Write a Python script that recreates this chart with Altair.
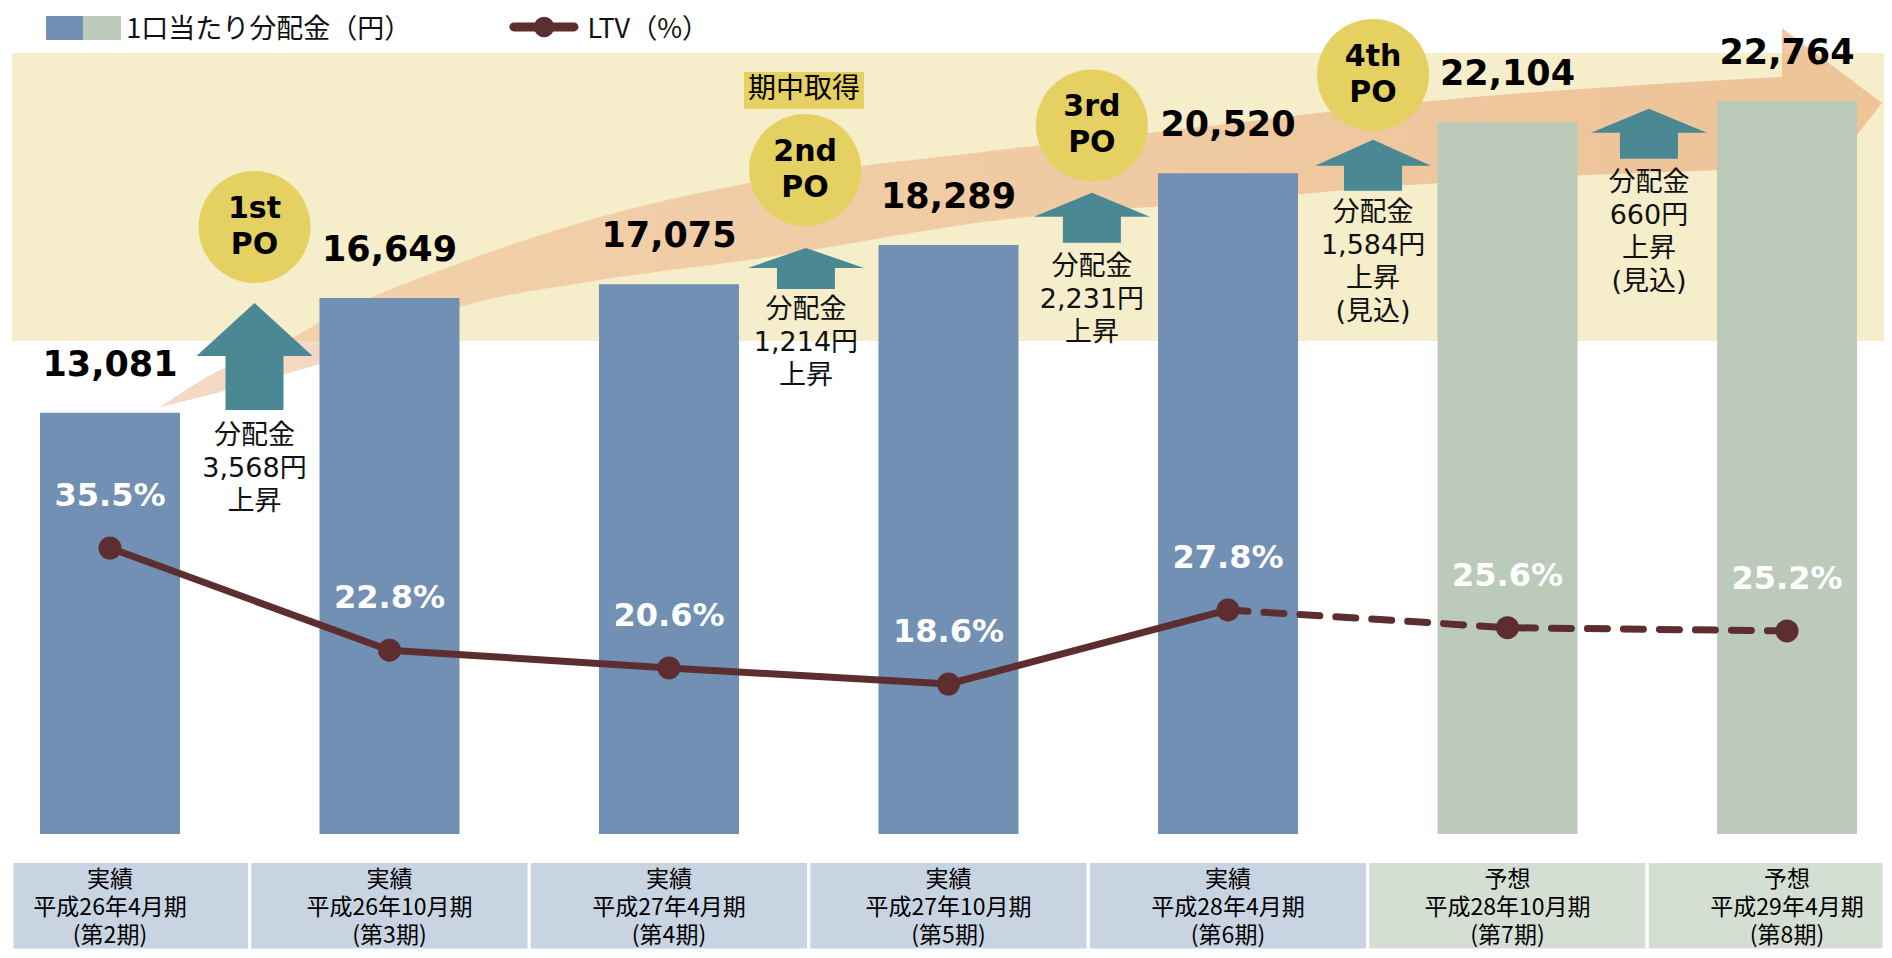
import altair as alt
import pandas as pd

# ---------------- data ----------------
kinds   = ["実績", "実績", "実績", "実績", "実績", "予想", "予想"]
periods = ["平成26年4月期", "平成26年10月期", "平成27年4月期", "平成27年10月期",
           "平成28年4月期", "平成28年10月期", "平成29年4月期"]
terms   = ["第2期", "第3期", "第4期", "第5期", "第6期", "第7期", "第8期"]
dist    = [13081, 16649, 17075, 18289, 20520, 22104, 22764]   # 1口当たり分配金（円）
ltv     = [35.5, 22.8, 20.6, 18.6, 27.8, 25.6, 25.2]          # LTV（%）

po_names   = ["1st", "2nd", "3rd", "4th"]
rise_from  = [0, 2, 3, 4, 5]
rise_to    = [1, 3, 4, 5, 6]
rise_notes = ["", "", "", "(見込)", "(見込)"]
legend_names = ["1口当たり分配金（円）", "LTV（%）"]
mid_note = "期中取得"

# ---------------- layout (data units: x = period index, y = yen) ----------------
W, H = 1876, 942
PX_PER_YEN = 0.0322
BASE = 826                      # plot-pixel row of zero yen
X_DOM = [-0.36494, 6.34705]
Y_DOM = [(BASE - H) / PX_PER_YEN, BASE / PX_PER_YEN]
L_DOM = [35.5 - (H - 540) / 8.047, 102.61]

BLUE, GREEN = "#7190B4", "#BCCBB9"
CELL_BLUE, CELL_GREEN = "#C8D4E2", "#D4DED2"
BAND = "#F6EECA"
GOLD = "#E5D062"
TEAL = "#4A8993"
MAROON = "#5C2E2F"
JP = "Noto Sans CJK JP"
MIX = "DejaVu Sans, Noto Sans CJK JP"
LAT = "DejaVu Sans"

po_x = [0.517, 2.487, 3.513, 4.519]
po_y = [18853, 20624, 22006, 23575]
po_txt_y = [19412, 21183, 22565, 24134]
arrow_x = [0.517, 2.490, 3.513, 4.519, 5.506]
arrow_y = [14831, 17564, 19141, 20769, 21748]
arrow_h = [107, 41, 50, 51, 50]
arrow_head = [53, 20, 24, 26, 24]
note_y = [12362, 16275, 17611, 19288, 20220]

# big trend arrow (shaft edges + head)
trend_x   = [0.179, 0.340, 0.640, 0.751, 1.252, 1.753, 2.286, 3.184, 3.900, 4.651, 5.982]
trend_top = [13263, 14163, 15344, 15903, 17735, 19164, 20220, 21245, 21959, 22705, 23512]
trend_bot = [13263, 13604, 14319, 14598, 16369, 17207, 17828, 19071, 19599, 20158, 20686]
head_x = [5.982, 6.340]
head_top = [25034, 22705]
head_bot = [18760, 22705]

xsc = alt.Scale(domain=X_DOM, nice=False, zero=False, padding=0)
ysc = alt.Scale(domain=Y_DOM, nice=False, zero=False, padding=0)
lsc = alt.Scale(domain=L_DOM, nice=False, zero=False, padding=0)


def X(f):
    return alt.X(f, type="quantitative", scale=xsc, axis=None)


def Y(f):
    return alt.Y(f, type="quantitative", scale=ysc, axis=None)


def arrow_path(h, head, w=116, body=58):
    s = w / 2
    t = -h / 2 / s
    b = h / 2 / s
    base = t + head / s
    bw = body / 2 / s
    return (f"M0,{t:.3f}L1,{base:.3f}L{bw:.3f},{base:.3f}L{bw:.3f},{b:.3f}"
            f"L{-bw:.3f},{b:.3f}L{-bw:.3f},{base:.3f}L-1,{base:.3f}Z")


df = pd.DataFrame({"i": list(range(7)), "kind": kinds, "period": periods,
                   "term": terms, "dist": dist, "ltv": ltv})
df["cell"] = [f"{k}\n{p}\n({t})" for k, p, t in zip(kinds, periods, terms)]
df["ltv_label"] = [f"{v:.1f}%" for v in ltv]

# background band
band_df = pd.DataFrame({"x0": [-0.3506], "x1": [X_DOM[1]], "y0": [15313], "y1": [24258]})
band = alt.Chart(band_df).mark_rect(color=BAND).encode(
    x=X("x0"), x2=alt.X2("x1"), y=Y("y0"), y2=alt.Y2("y1"))

# trend arrow
grad = alt.Gradient(gradient="linear",
                    stops=[alt.GradientStop(color="rgba(238,186,148,0.55)", offset=0),
                           alt.GradientStop(color="rgba(234,176,130,0.68)", offset=1)],
                    x1=0, x2=1, y1=0, y2=0)
shaft_df = pd.DataFrame({"x": trend_x, "top": trend_top, "bot": trend_bot})
shaft = alt.Chart(shaft_df).mark_area(color=grad, interpolate="monotone").encode(
    x=X("x"), y=Y("top"), y2=alt.Y2("bot"))
head_df = pd.DataFrame({"x": head_x, "top": head_top, "bot": head_bot})
head = alt.Chart(head_df).mark_area(color="rgba(234,176,130,0.68)").encode(
    x=X("x"), y=Y("top"), y2=alt.Y2("bot"))

# bars
bars = alt.Chart(df).mark_bar(size=140).encode(
    x=X("i"), y=Y("dist"),
    color=alt.condition("datum.kind == '実績'", alt.value(BLUE), alt.value(GREEN)))
bar_lbl = alt.Chart(df).mark_text(dy=-48, font=LAT, fontWeight="bold", fontSize=35,
                                  color="black", baseline="middle").encode(
    x=X("i"), y=Y("dist"), text=alt.Text("dist:Q", format=","))

# teal rise arrows + notes
rise_amt = [dist[b] - dist[a] for a, b in zip(rise_from, rise_to)]
arrow_df = pd.DataFrame({
    "x": arrow_x, "y": arrow_y,
    "path": [arrow_path(h, hd) for h, hd in zip(arrow_h, arrow_head)],
    "ny": note_y,
    "label": [f"分配金\n{a:,}円\n上昇" + (f"\n{n}" if n else "") for a, n in zip(rise_amt, rise_notes)],
})
arrows = alt.Chart(arrow_df).mark_point(filled=True, opacity=1, color=TEAL, strokeWidth=0).encode(
    x=X("x"), y=Y("y"), shape=alt.Shape("path:N", scale=None), size=alt.value(13456))
notes = alt.Chart(arrow_df).mark_text(font=MIX, fontSize=27, lineHeight=33, lineBreak="\n",
                                      baseline="middle", color="#111111").encode(
    x=X("x"), y=Y("ny"), text="label:N")

# PO circles
po_df = pd.DataFrame({"x": po_x, "y": po_y, "ty": po_txt_y, "lab": [f"{n}\nPO" for n in po_names]})
circles = alt.Chart(po_df).mark_point(shape="circle", filled=True, size=12544, color=GOLD,
                                      opacity=1, strokeWidth=0).encode(x=X("x"), y=Y("y"))
po_txt = alt.Chart(po_df).mark_text(font=LAT, fontWeight="bold", fontSize=30, lineHeight=36,
                                    lineBreak="\n", baseline="middle", color="black").encode(
    x=X("x"), y=Y("ty"), text="lab:N")

mid_df = pd.DataFrame({"x0": [2.268], "x1": [2.698], "y0": [22519], "y1": [23668],
                       "xc": [2.483], "yc": [23093], "t": [mid_note]})
mid_rect = alt.Chart(mid_df).mark_rect(color=GOLD).encode(
    x=X("x0"), x2=alt.X2("x1"), y=Y("y0"), y2=alt.Y2("y1"))
mid_txt = alt.Chart(mid_df).mark_text(font=JP, fontSize=28, baseline="middle", color="black").encode(
    x=X("xc"), y=Y("yc"), text="t:N")

# LTV line
lbase = alt.Chart(df).encode(x=X("i"), y=alt.Y("ltv:Q", scale=lsc, axis=None))
l_solid = lbase.transform_filter("datum.i <= 4").mark_line(
    color=MAROON, strokeWidth=7, strokeJoin="round")
l_dash = lbase.transform_filter("datum.i >= 4").mark_line(
    color=MAROON, strokeWidth=7, strokeDash=[20, 16], strokeCap="round")
l_pts = lbase.mark_circle(size=530, color=MAROON, opacity=1)
l_lbl = lbase.mark_text(dy=-52, font=LAT, fontWeight="bold", fontSize=32, color="white",
                        baseline="middle").encode(text="ltv_label:N")

# category cells
cells = alt.Chart(df).transform_calculate(
    c0="max(datum.i - 0.5, -0.3506)", c1=f"min(datum.i + 0.5, {X_DOM[1]})",
    r0="-854", r1=f"{Y_DOM[0]}"
).mark_rect(stroke="white", strokeWidth=3).encode(
    x=X("c0"), x2=alt.X2("c1"), y=Y("r0"), y2=alt.Y2("r1"),
    color=alt.condition("datum.kind == '実績'", alt.value(CELL_BLUE), alt.value(CELL_GREEN)))
cell_txt = alt.Chart(df).transform_calculate(ty="-1429").mark_text(
    font=JP, fontSize=23, lineHeight=28, lineBreak="\n", baseline="middle", color="black").encode(
    x=X("i"), y=Y("ty"), text="cell:N")

# legend
sw_df = pd.DataFrame({"x0": [-0.229, -0.0966], "x1": [-0.0966, 0.0394],
                      "y0": [24660, 24660], "y1": [25407, 25407], "k": ["実績", "予想"]})
swatch = alt.Chart(sw_df).mark_rect().encode(
    x=X("x0"), x2=alt.X2("x1"), y=Y("y0"), y2=alt.Y2("y1"),
    color=alt.condition("datum.k == '実績'", alt.value(BLUE), alt.value(GREEN)))
lg_df = pd.DataFrame({"x": [0.058, 1.708], "y": [24970, 24970], "t": legend_names})
lg_txt = alt.Chart(lg_df).mark_text(font=JP, fontSize=27, align="left", baseline="middle",
                                    color="#111111").encode(x=X("x"), y=Y("y"), text="t:N")
lgl_df = pd.DataFrame({"x0": [1.445], "x1": [1.660], "y": [25065], "xm": [1.553]})
lg_line = alt.Chart(lgl_df).mark_rule(color=MAROON, strokeWidth=9, strokeCap="round").encode(
    x=X("x0"), x2=alt.X2("x1"), y=Y("y"))
lg_pt = alt.Chart(lgl_df).mark_point(shape="circle", filled=True, size=420, color=MAROON,
                                     opacity=1).encode(x=X("xm"), y=Y("y"))

chart = alt.layer(
    band, shaft, head, bars, bar_lbl, arrows, notes, circles, po_txt, mid_rect, mid_txt,
    l_solid, l_dash, l_pts, l_lbl, cells, cell_txt, swatch, lg_txt, lg_line, lg_pt
).resolve_scale(y="independent").properties(
    width=W, height=H, padding=0, autosize=alt.AutoSizeParams(type="none")
).configure_view(strokeWidth=0)

chart.save("out.html", embed_options={"renderer": "svg", "actions": False})
